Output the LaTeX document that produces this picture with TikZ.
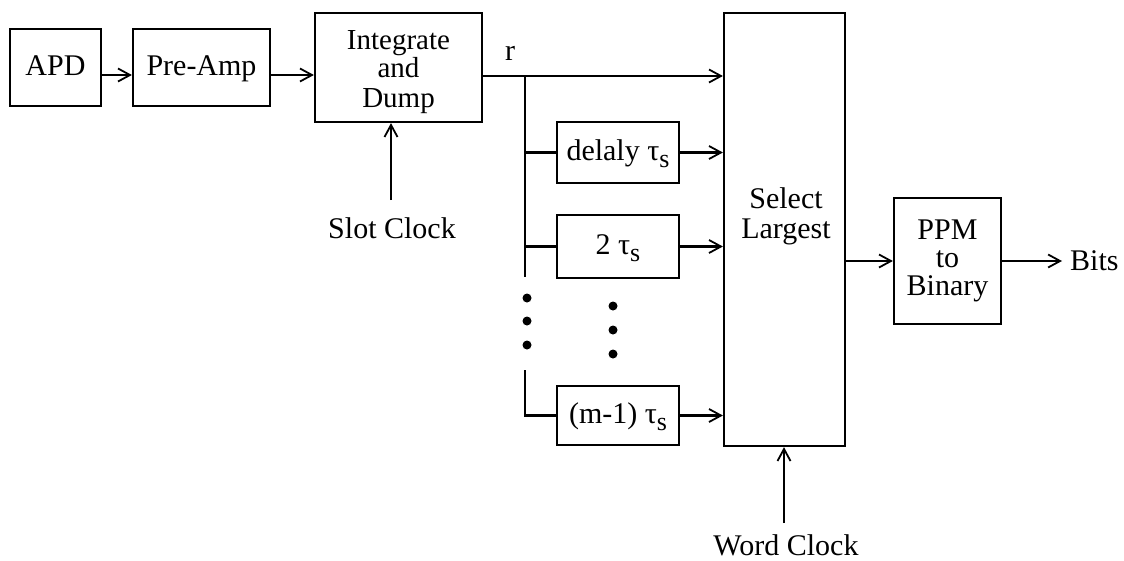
\documentclass[tikz,border=0pt]{standalone}
\usepackage{fontspec}
\setmainfont{Liberation Serif}
\usetikzlibrary{arrows.meta}
\newcommand{\taus}{τ\raisebox{-0.55ex}{\fontsize{26}{26}\selectfont s}}
\begin{document}
\begin{tikzpicture}[x=1pt,y=-1pt,
  every node/.style={font=\fontsize{30}{28}\selectfont},
  blk/.style={draw,line width=2.2pt,align=center,inner sep=0pt},
  one/.style={text height=21pt,text depth=6pt},
  lbl/.style={anchor=base,inner sep=0pt},
  ln/.style={line width=2.2pt},
  arr/.style={line width=2.2pt,-{Straight Barb[length=12pt,width=13pt,line width=1.8pt]}},
  dot/.style={fill,circle,inner sep=0pt,minimum size=9pt}]
\useasboundingbox (0,0) rectangle (1124,560);
\node[blk,one,minimum width=91pt,minimum height=77pt] (apd) at (55.5,67.5) {APD};
\node[blk,one,minimum width=137pt,minimum height=77pt] (pre) at (201.5,67.5) {Pre-Amp};
\node[blk,minimum width=167pt,minimum height=109pt] (iad) at (398.5,67.5) {};
\node[lbl,font=\fontsize{29}{28}\selectfont] (t1) at (398.5,49) {Integrate};
\node[lbl,font=\fontsize{29}{28}\selectfont] (t2) at (398.5,77) {and};
\node[lbl,font=\fontsize{29}{28}\selectfont] (t3) at (398.5,107) {Dump};
\node[blk,minimum width=121pt,minimum height=433pt] (sel) at (784.5,229.5) {};
\node[lbl] (s1) at (786,208) {Select};
\node[lbl] (s2) at (786,238) {Largest};
\node[blk,one,minimum width=122pt,minimum height=61pt] (d1) at (618,152.5) {delaly \taus};
\node[blk,one,minimum width=122pt,minimum height=63pt] (d2) at (618,246.5) {2 \taus};
\node[blk,one,minimum width=122pt,minimum height=59pt] (dm) at (618,415.5) {(m-1) \taus};
\node[blk,minimum width=107pt,minimum height=126pt] (ppm) at (947.5,261) {PPM\\to\\Binary};
\coordinate (yA) at (0,75);
\coordinate (yR) at (0,76);
\draw[arr] (apd.east |- yA) -- (pre.west |- yA);
\draw[arr] (pre.east |- yA) -- (iad.west |- yA);
\node (r) at (510,53) {r};
\coordinate (br) at (525,76);
\coordinate (brend) at (525,277);
\draw[arr] (iad.east |- yR) -- (sel.west |- yR);
\draw[ln] (br) -- (brend);
\draw[ln] (br |- d1.west) -- (d1.west);
\draw[ln] (br |- d2.west) -- (d2.west);
\coordinate (lowtop) at (525,370);
\draw[ln] (lowtop) |- (dm.west);
\draw[arr] (d1.east) -- (sel.west |- d1.east);
\draw[arr] (d2.east) -- (sel.west |- d2.east);
\draw[arr] (dm.east) -- (sel.west |- dm.east);
\node[dot] (a1) at (527,298) {};
\node[dot] (a2) at (527,321) {};
\node[dot] (a3) at (527,345) {};
\node[dot] (b1) at (613,306) {};
\node[dot] (b2) at (613,330) {};
\node[dot] (b3) at (613,354) {};
\coordinate (sc) at (391,200);
\draw[arr] (sc) -- (sc |- iad.south);
\node (slot) at (392,228) {Slot Clock};
\coordinate (wc) at (784,523);
\draw[arr] (wc) -- (wc |- sel.south);
\node (word) at (786,545) {Word Clock};
\draw[arr] (sel.east |- ppm.west) -- (ppm.west);
\coordinate (bitsend) at (1062,261);
\draw[arr] (ppm.east) -- (bitsend);
\node[anchor=west,inner sep=0pt] (bits) at (1070,261) {Bits};
\end{tikzpicture}
\end{document}
